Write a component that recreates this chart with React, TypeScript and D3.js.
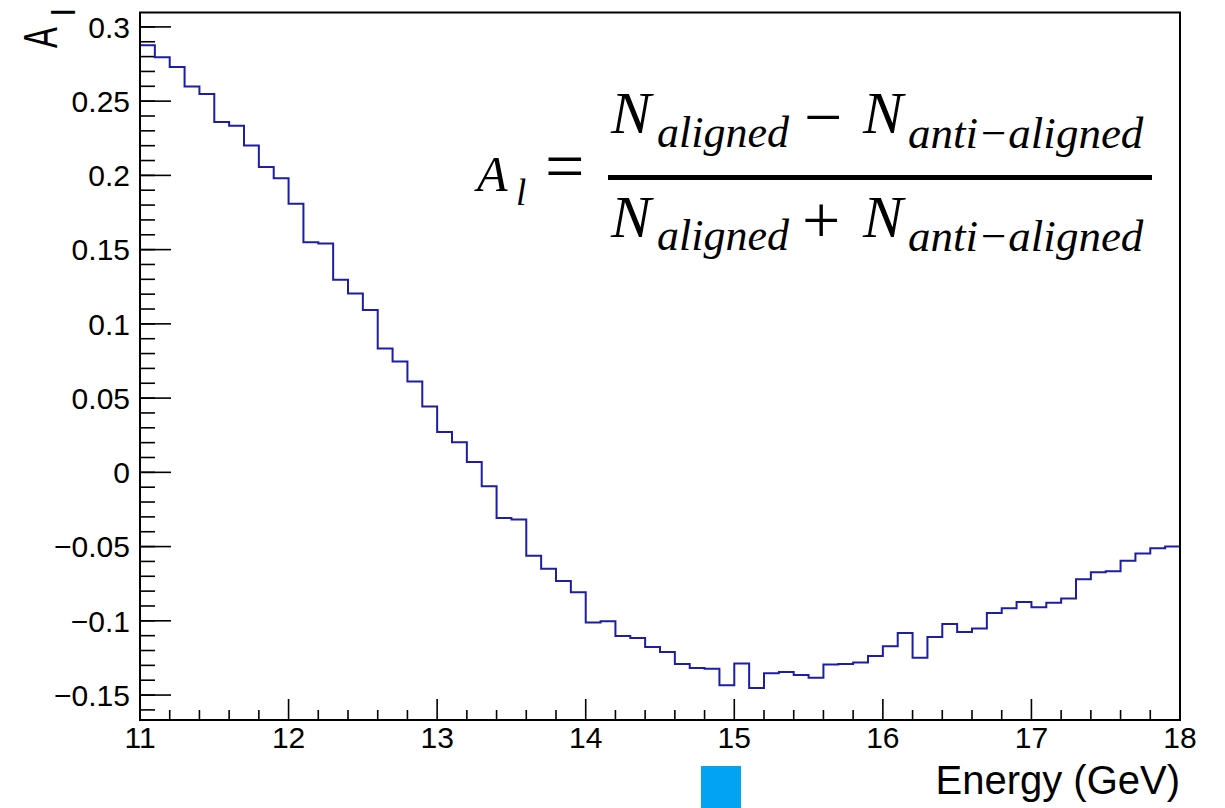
import React from "react";
import * as d3 from "d3";

// ---- data ----
const binStart = 11;
const binWidth = 0.1;
const asymmetry: number[] = [
  0.2876, 0.2795, 0.273, 0.2598, 0.2548, 0.236, 0.2335, 0.2202, 0.2057, 0.198,
  0.1809, 0.1549, 0.1542, 0.1297, 0.1205, 0.1093, 0.0834, 0.0747, 0.0612, 0.0443,
  0.0271, 0.0203, 0.0069, -0.0093, -0.0307, -0.0318, -0.0561, -0.065, -0.0731, -0.0807,
  -0.1012, -0.1003, -0.1102, -0.1115, -0.1176, -0.121, -0.129, -0.1318, -0.1322, -0.1434,
  -0.1288, -0.1452, -0.1353, -0.1344, -0.1365, -0.1383, -0.1295, -0.129, -0.1281, -0.1237,
  -0.1171, -0.1082, -0.1248, -0.1109, -0.1021, -0.1075, -0.1052, -0.0947, -0.0915, -0.0873,
  -0.0909, -0.0879, -0.085, -0.072, -0.0673, -0.0666, -0.0596, -0.0547, -0.0511, -0.05,
];
const xMajorTicks: number[] = [11, 12, 13, 14, 15, 16, 17, 18];
const yMajorTicks: number[] = [-0.15, -0.1, -0.05, 0, 0.05, 0.1, 0.15, 0.2, 0.25, 0.3];
const yTickLabels: string[] = ["\u22120.15", "\u22120.1", "\u22120.05", "0", "0.05", "0.1", "0.15", "0.2", "0.25", "0.3"];
const xTitle = "Energy (GeV)";

const W = 1225;
const H = 808;
const L = 140, R = 1180, T = 12.5, B = 720;

const SERIF = "Liberation Serif";

function Tx(props: { x: number; y: number; s: number; it?: boolean; children: React.ReactNode }) {
  return (
    <text x={props.x} y={props.y} fontSize={props.s} fontFamily={SERIF} fontStyle={props.it ? "italic" : "normal"} fill="#000">
      {props.children}
    </text>
  );
}

export default function App() {
  const x = d3.scaleLinear().domain([11, 18]).range([L, R]);
  const y = d3.scaleLinear().domain([-0.1668, 0.3097]).range([B, T]);

  const pts: [number, number][] = asymmetry.map((v, i) => [binStart + i * binWidth, v]);
  pts.push([binStart + asymmetry.length * binWidth, asymmetry[asymmetry.length - 1]]);
  const line = d3
    .line<[number, number]>()
    .x((d) => x(d[0]))
    .y((d) => y(d[1]))
    .curve(d3.curveStepAfter);

  const xMinor = d3.range(0, 36).map((i) => 11 + i * 0.2).filter((v) => Math.abs(v - Math.round(v)) > 1e-6);
  const yMinor = d3.range(-16, 32).map((i) => i / 100).filter((v) => v >= -0.1668 && v <= 0.3097);

  const sans = "Liberation Sans";

  return (
    <svg width={W} height={H} style={{ position: "absolute", left: 0, top: 0, background: "#fff" }}>
      <rect x={0} y={0} width={W} height={H} fill="#fff" />
      {yMinor.map((v, i) => (
        <line key={"ym" + i} x1={L} x2={L + 15} y1={y(v)} y2={y(v)} stroke="#000" strokeWidth={1.6} />
      ))}
      {yMajorTicks.map((v, i) => (
        <line key={"yM" + i} x1={L} x2={L + 31} y1={y(v)} y2={y(v)} stroke="#000" strokeWidth={1.6} />
      ))}
      {xMinor.map((v, i) => (
        <line key={"xm" + i} x1={x(v)} x2={x(v)} y1={B} y2={B - 10} stroke="#000" strokeWidth={1.6} />
      ))}
      {xMajorTicks.map((v, i) => (
        <line key={"xM" + i} x1={x(v)} x2={x(v)} y1={B} y2={B - 21} stroke="#000" strokeWidth={1.6} />
      ))}
      <path d={line(pts) || ""} fill="none" stroke="#1d1da8" strokeWidth={2} />
      <rect x={L} y={T} width={R - L} height={B - T} fill="none" stroke="#000" strokeWidth={2} />
      {yMajorTicks.map((v, i) => (
        <text key={"yl" + i} x={130} y={y(v)} dy="0.36em" textAnchor="end" fontFamily={sans} fontSize={30} fill="#000">
          {yTickLabels[i]}
        </text>
      ))}
      {xMajorTicks.map((v, i) => (
        <text key={"xl" + i} x={x(v)} y={748} textAnchor="middle" fontFamily={sans} fontSize={30} fill="#000">
          {String(v)}
        </text>
      ))}
      <text x={R} y={794} textAnchor="end" fontFamily={sans} fontSize={40} fill="#000">
        {xTitle}
      </text>
      <text transform="translate(57,48) rotate(-90) scale(0.65,1)" fontFamily={sans} fontSize={48} fill="#000">
        A
      </text>
      <text transform="translate(75,16) rotate(-90)" fontFamily={sans} fontSize={34} fill="#000">
        l
      </text>
      <Tx x={477} y={191} s={50} it>A</Tx>
      <Tx x={516} y={205} s={37} it>l</Tx>
      <Tx x={545} y={190} s={70}>=</Tx>
      <Tx x={611} y={133} s={60} it>N</Tx>
      <Tx x={657} y={147} s={44} it>aligned</Tx>
      <Tx x={804} y={140} s={68}>{"\u2212"}</Tx>
      <Tx x={863} y={133} s={60} it>N</Tx>
      <Tx x={908} y={148} s={45} it>{"anti\u2212aligned"}</Tx>
      <rect x={608} y={175} width={544} height={5} fill="#000" />
      <Tx x={611} y={237} s={60} it>N</Tx>
      <Tx x={657} y={250} s={44} it>aligned</Tx>
      <Tx x={802} y={243} s={68}>+</Tx>
      <Tx x={863} y={237} s={60} it>N</Tx>
      <Tx x={908} y={251} s={45} it>{"anti\u2212aligned"}</Tx>
      <rect x={701} y={766} width={40} height={42} fill="#02a3f3" />
    </svg>
  );
}
